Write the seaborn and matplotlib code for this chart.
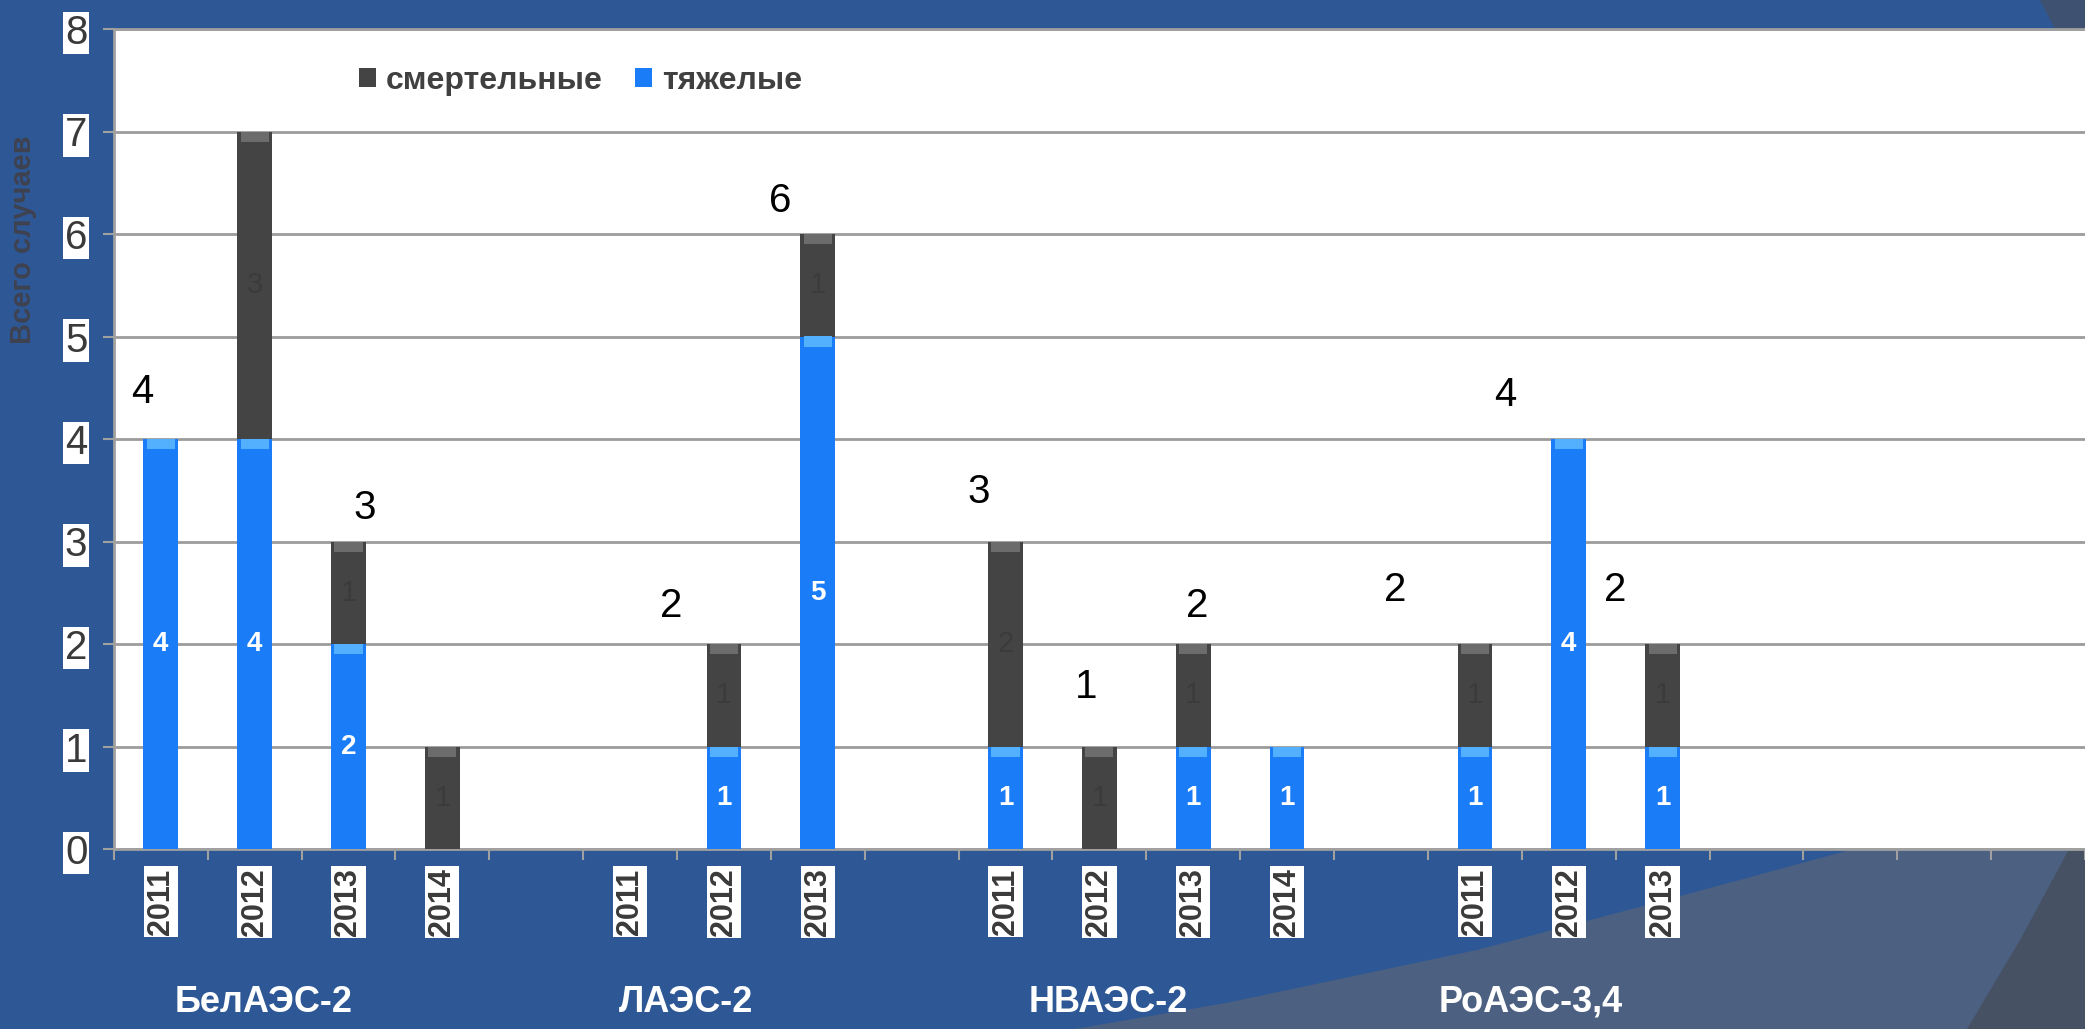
import matplotlib
matplotlib.use("Agg")
import matplotlib.pyplot as plt
import matplotlib.transforms as mtransforms
from matplotlib.patches import Polygon, Patch
import numpy as np
import pandas as pd
import seaborn as sns

# data
stations = ["БелАЭС-2", "ЛАЭС-2", "НВАЭС-2", "РоАЭС-3,4"]
station_col = ["БелАЭС-2"] * 4 + ["ЛАЭС-2"] * 3 + ["НВАЭС-2"] * 4 + ["РоАЭС-3,4"] * 3
year_col = ["2011", "2012", "2013", "2014",
            "2011", "2012", "2013",
            "2011", "2012", "2013", "2014",
            "2011", "2012", "2013"]
heavy = [4, 4, 2, 0, 0, 1, 5, 1, 0, 1, 1, 1, 4, 1]   # тяжелые
fatal = [0, 3, 1, 1, 0, 1, 1, 2, 1, 1, 0, 1, 0, 1]   # смертельные
show_total = [1, 0, 1, 0, 0, 1, 1, 1, 1, 1, 0, 1, 1, 1]

# where the hand-placed total labels sit (slot units / value units)
total_dx = [-0.2, 0, 0.17, 0, 0, -0.56, -0.40, -0.29, -0.14, 0.04, 0, -0.85, -0.68, -0.51]
total_dy = [0.46, 0, 0.33, 0, 0, 0.37, 0.32, 0.48, 0.58, 0.37, 0, 0.53, 0.43, 0.53]

df = pd.DataFrame({"station": station_col, "year": year_col,
                   "heavy": heavy, "fatal": fatal})
df["total"] = df["heavy"] + df["fatal"]
df["key"] = df["station"] + " " + df["year"]

# category order with empty slots between stations
order = []
for i, st in enumerate(stations):
    order += list(df.loc[df.station == st, "key"])
    order.append("gap%d" % i)
order += ["gap_end%d" % i for i in range(3)]
pos = {k: i for i, k in enumerate(order)}

blue = "#1a7df7"
dark = "#444444"
bg = "#2d5895"

sns.set_theme(style="white")
plt.rcParams["font.family"] = ["Liberation Sans", "DejaVu Sans"]

W, H = 2085, 1029
fig = plt.figure(figsize=(W / 100, H / 100), dpi=100, facecolor=bg)

# background decoration
def px(pts):
    return [(x / W, 1 - y / H) for x, y in pts]

fig.patches.append(Polygon(px([(1075, 1029), (1226, 1003), (1477, 950), (1666, 900),
                               (1850, 850), (2085, 770), (2085, 1029)]),
                           transform=fig.transFigure, facecolor="#4c6081", edgecolor="none", zorder=0))
fig.patches.append(Polygon(px([(2085, 790), (2068, 851), (2020, 940), (1967, 1029), (2085, 1029)]),
                           transform=fig.transFigure, facecolor="#465164", edgecolor="none", zorder=0))
fig.patches.append(Polygon(px([(2040, 0), (2085, 0), (2085, 29), (2055, 29)]),
                           transform=fig.transFigure, facecolor="#3f5170", edgecolor="none", zorder=0))

ax = fig.add_axes([113.8 / W, 1 - 849 / H, 1 - 113.8 / W, (849 - 29) / H])
ax.set_zorder(2)
ax.set_facecolor("white")

sns.barplot(data=df, x="key", y="total", order=order, color=dark, width=0.37,
            saturation=1, linewidth=0, ax=ax, zorder=3)
sns.barplot(data=df, x="key", y="heavy", order=order, color=blue, width=0.37,
            saturation=1, linewidth=0, ax=ax, zorder=4)

# bevel highlight on top of each segment
for _, r in df.iterrows():
    x = pos[r.key]
    if r.heavy > 0:
        ax.bar(x, 0.1, bottom=r.heavy - 0.1, width=0.3, color="#52b0ff", zorder=5, linewidth=0)
    if r.fatal > 0:
        ax.bar(x, 0.1, bottom=r.total - 0.1, width=0.3, color="#6c6c6c", zorder=5, linewidth=0)

# segment labels
for _, r in df.iterrows():
    x = pos[r.key]
    if r.heavy > 0:
        ax.text(x, r.heavy / 2, str(r.heavy), color="white", fontsize=20, fontweight="bold",
                ha="center", va="center", zorder=6)
    if r.fatal > 0:
        ax.text(x, r.heavy + r.fatal / 2, str(r.fatal), color="#3b3b3b", fontsize=21,
                ha="center", va="center", zorder=6)

# total labels
for i, r in df.iterrows():
    if show_total[i]:
        ax.text(pos[r.key] + total_dx[i], r.total + total_dy[i], str(r.total),
                color="black", fontsize=29, ha="center", va="center", zorder=6)

ax.set_xlim(-0.5, (W - 113.8) / 94.6 - 0.5)
ax.set_ylim(0, 8)
ax.set_yticks(range(0, 9))
ax.yaxis.grid(True, color="#9c9c9c", linewidth=2)
ax.set_axisbelow(True)

ax.set_xticks(range(len(order)))
ax.set_xticklabels([k.split(" ")[-1] if not k.startswith("gap") else "" for k in order],
                   rotation=90, fontsize=22, fontweight="bold", color="#3a3a3a")
ax.set_xticks(np.arange(-0.5, len(order), 1), minor=True)
ax.tick_params(axis="x", which="major", length=0, pad=14)
ax.tick_params(axis="x", which="minor", length=8, width=1.5, color="#a0a0a0", bottom=True)
ax.tick_params(axis="y", length=8, width=1.5, color="#a0a0a0", left=True, pad=11,
               labelsize=29, labelcolor="#3a3a3a")
for lbl in ax.get_xticklabels() + ax.get_yticklabels():
    if lbl.get_text():
        lbl.set_bbox(dict(facecolor="white", edgecolor="none", pad=1.5))

ax.set_xlabel("")
ax.set_ylabel("")
for s in ["left", "bottom", "top"]:
    ax.spines[s].set_color("#a0a0a0")
    ax.spines[s].set_linewidth(2)
ax.spines["right"].set_visible(False)

# station labels under the years
trans = mtransforms.blended_transform_factory(ax.transData, fig.transFigure)
for st in stations:
    xs = [pos[k] for k in df.loc[df.station == st, "key"]]
    ax.text(np.mean(xs) - 0.4, 0.026, st, transform=trans, color="white", fontsize=26,
            fontweight="bold", ha="center", va="center", clip_on=False)

fig.text(0.011, 0.767, "Всего случаев", rotation=90, color="#3f4250", fontsize=21,
         fontweight="bold", ha="center", va="center")

handles = [Patch(facecolor=dark, edgecolor="none", label="смертельные"),
           Patch(facecolor=blue, edgecolor="none", label="тяжелые")]
fig.legend(handles=handles, loc="center left", bbox_to_anchor=(330 / W, 0.9214), ncol=2,
           frameon=False, handlelength=0.55, handleheight=0.55, handletextpad=0.3,
           columnspacing=1.0, prop={"size": 23, "weight": "bold"}, labelcolor="#404040")

fig.savefig("out.png", dpi=100, facecolor=bg)
